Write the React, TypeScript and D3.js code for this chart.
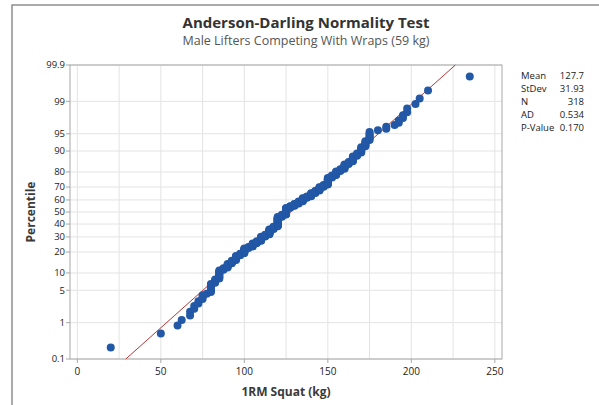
import React from 'react'
import * as d3 from 'd3'

// distinct squat results (kg) and how many lifters hit each
const squatKg = [20, 50, 60, 62.5, 67.5, 70, 72.5, 75, 77.5, 80, 82.5, 85, 87.5, 90, 92.5, 95, 97.5, 100, 102.5, 105,
  107.5, 110, 112.5, 115, 117.5, 120, 122.5, 125, 127.5, 130, 132.5, 135, 137.5, 140, 142.5, 145, 147.5, 150, 152.5,
  155, 157.5, 160, 162.5, 165, 167.5, 170, 172.5, 175, 180, 185, 190, 192.5, 195, 197.5, 202.5, 205, 210, 235]
const lifterCounts = [1, 1, 1, 1, 2, 2, 2, 3, 1, 7, 4, 10, 3, 6, 5, 8, 4, 10, 3, 7,
  5, 10, 5, 13, 7, 25, 6, 18, 5, 6, 6, 9, 4, 8, 6, 9, 5, 15, 5,
  8, 4, 8, 4, 8, 4, 7, 6, 7, 1, 2, 1, 2, 2, 2, 1, 1, 1, 1]

const statLabels = ['Mean', 'StDev', 'N', 'AD', 'P-Value']
const statValues = ['127.7', '31.93', '318', '0.534', '0.170']
const fitMean = 127.7
const fitSd = 31.93

const percentTicks = [0.1, 1, 5, 10, 20, 30, 40, 50, 60, 70, 80, 90, 95, 99, 99.9]
const kgTicks = [0, 50, 100, 150, 200, 250]
const kgGrid = [0, 25, 50, 75, 100, 125, 150, 175, 200, 225, 250]

const font = '"Open Sans", "Noto Sans", sans-serif'
const plot = {left: 70, right: 502, top: 65, bottom: 359}

// inverse normal cdf (Acklam)
function probit(p: number) {
  const a = [-39.69683028665376, 220.9460984245205, -275.9285104469687, 138.357751867269, -30.66479806614716, 2.506628277459239]
  const b = [-54.47609879822406, 161.5858368580409, -155.6989798598866, 66.80131188771972, -13.28068155288572]
  const c = [-0.007784894002430293, -0.3223964580411365, -2.400758277161838, -2.549732539343734, 4.374664141464968, 2.938163982698783]
  const d = [0.007784695709041462, 0.3224671290700398, 2.445134137142996, 3.754408661907416]
  const pl = 0.02425
  if (p < pl) {
    const q = Math.sqrt(-2 * Math.log(p))
    return (((((c[0] * q + c[1]) * q + c[2]) * q + c[3]) * q + c[4]) * q + c[5]) / ((((d[0] * q + d[1]) * q + d[2]) * q + d[3]) * q + 1)
  }
  if (p > 1 - pl) {
    const q = Math.sqrt(-2 * Math.log(1 - p))
    return -(((((c[0] * q + c[1]) * q + c[2]) * q + c[3]) * q + c[4]) * q + c[5]) / ((((d[0] * q + d[1]) * q + d[2]) * q + d[3]) * q + 1)
  }
  const q = p - 0.5
  const r = q * q
  return (((((a[0] * r + a[1]) * r + a[2]) * r + a[3]) * r + a[4]) * r + a[5]) * q / (((((b[0] * r + b[1]) * r + b[2]) * r + b[3]) * r + b[4]) * r + 1)
}

export default function App() {
  const xScale = d3.scaleLinear().domain([-4.4, 254.3]).range([plot.left, plot.right])
  const zMax = probit(0.999)
  const yScale = d3.scaleLinear().domain([-zMax, zMax]).range([plot.bottom, plot.top])
  const yPct = (pct: number) => yScale(probit(pct / 100))

  // sorted observations with median-rank plotting positions
  const sorted: number[] = []
  squatKg.forEach((v, i) => { for (let k = 0; k < lifterCounts[i]; k++) sorted.push(v) })
  const n = sorted.length
  const points = sorted.map((v, i) => ({kg: v, z: probit((i + 1 - 0.3) / (n + 0.4))}))

  const fitLine = d3.line<number>()
    .x(z => xScale(fitMean + z * fitSd))
    .y(z => yScale(z))

  return (
    <svg width={599} height={405} style={{position: 'absolute', left: 0, top: 0, background: '#fff'}} fontFamily={font}>
      <rect x={12} y={5} width={620} height={420} fill='#fff' stroke='#8f8f8f' strokeWidth={1.5} />

      <text x={306} y={28} textAnchor='middle' fontSize={15} fontWeight='bold' fill='#333'>
        Anderson-Darling Normality Test
      </text>
      <text x={306} y={45} textAnchor='middle' fontSize={12.5} fill='#555'>
        Male Lifters Competing With Wraps (59 kg)
      </text>

      {/* grid */}
      {kgGrid.map(g => (
        <line key={'gx' + g} x1={xScale(g)} x2={xScale(g)} y1={plot.top} y2={plot.bottom} stroke='#e3e3e3' strokeWidth={1} />
      ))}
      {percentTicks.map(t => (
        <line key={'gy' + t} x1={plot.left} x2={plot.right} y1={yPct(t)} y2={yPct(t)} stroke='#e3e3e3' strokeWidth={1} />
      ))}
      <rect x={plot.left} y={plot.top} width={plot.right - plot.left} height={plot.bottom - plot.top}
        fill='none' stroke='#a8a8a8' strokeWidth={1} />

      <path d={fitLine([-zMax, zMax]) || ''} fill='none' stroke='#b23a3a' strokeWidth={1} />

      {points.map((p, i) => (
        <circle key={i} cx={xScale(p.kg)} cy={yScale(p.z)} r={4} fill='#2258a6' />
      ))}

      {/* y axis */}
      {percentTicks.map(t => (
        <g key={'ty' + t}>
          <line x1={plot.left - 4} x2={plot.left} y1={yPct(t)} y2={yPct(t)} stroke='#a8a8a8' />
          <text x={plot.left - 5} y={yPct(t)} dy='0.35em' textAnchor='end' fontSize={9.5} fill='#222'>{t}</text>
        </g>
      ))}
      {/* x axis */}
      {kgTicks.map(t => (
        <g key={'tx' + t}>
          <line x1={xScale(t)} x2={xScale(t)} y1={plot.bottom} y2={plot.bottom + 4} stroke='#a8a8a8' />
          <text x={xScale(t)} y={375} textAnchor='middle' fontSize={10} fill='#222'>{t}</text>
        </g>
      ))}

      <text x={286} y={396} textAnchor='middle' fontSize={12} fontWeight='bold' fill='#3a3a3a'>1RM Squat (kg)</text>
      <text transform={'translate(35,212) rotate(-90)'} textAnchor='middle' fontSize={12} fontWeight='bold' fill='#3a3a3a'>Percentile</text>

      {/* stats box */}
      {statLabels.map((s, i) => (
        <g key={s}>
          <text x={521} y={79 + i * 13} fontSize={9.5} fill='#222'>{s}</text>
          <text x={584} y={79 + i * 13} textAnchor='end' fontSize={9.5} fill='#222'>{statValues[i]}</text>
        </g>
      ))}
    </svg>
  )
}
